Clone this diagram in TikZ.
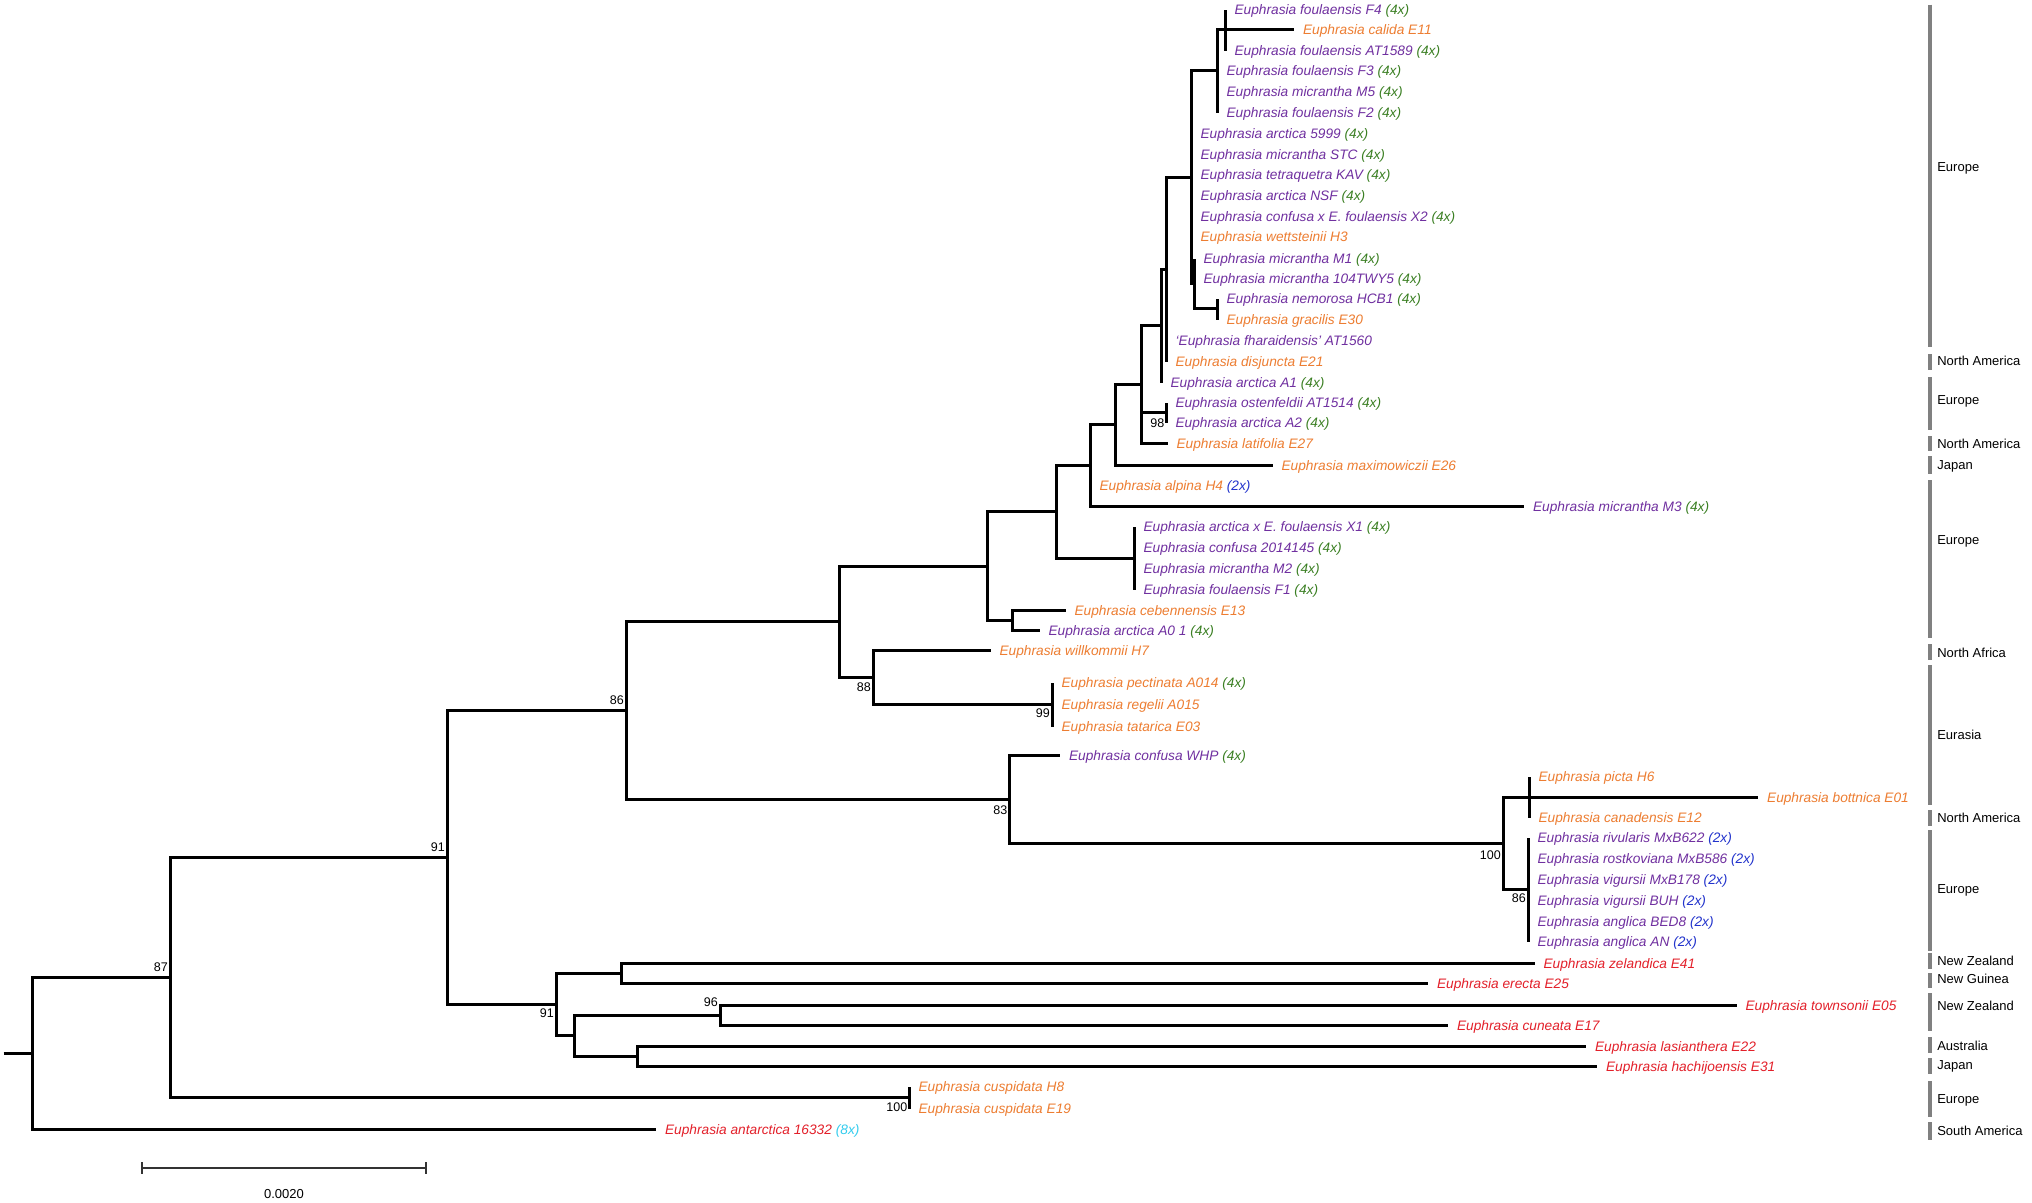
\documentclass[tikz,border=0pt]{standalone}
\usepackage{fontspec}
\setmainfont{Liberation Sans}
\definecolor{cpur}{HTML}{7030A0}
\definecolor{cora}{HTML}{ED7D31}
\definecolor{cgrn}{HTML}{3A7F22}
\definecolor{cblu}{HTML}{2233CC}
\definecolor{cred}{HTML}{E3202A}
\definecolor{ccya}{HTML}{33CCEE}
\definecolor{cbar}{HTML}{808080}
\def\xPu{\color{cpur}}
\def\xOr{\color{cora}}
\def\xGn{\color{cgrn}}
\def\xBl{\color{cblu}}
\def\xRd{\color{cred}}
\def\xCy{\color{ccya}}
\begin{document}
\begin{tikzpicture}[x=0.025cm,y=-0.025cm,
  br/.style={line width=0.07cm, line join=miter},
  leaf/.style={anchor=base west, inner sep=0pt, xshift=0.22cm, yshift=-0.12cm, font=\fontsize{9.75}{11}\selectfont\itshape},
  boot/.style={anchor=east, inner sep=0pt, font=\fontsize{8.9}{10}\selectfont},
  regbar/.style={draw=cbar, line width=0.1cm},
  reglab/.style={anchor=base west, inner sep=0pt, yshift=-0.116cm, font=\fontsize{9.25}{11}\selectfont},
  sbar/.style={draw=black!80, line width=0.05cm}]
\fill[white] (0,0) rectangle (2032,1203);
\useasboundingbox (0,0) rectangle (2032,1203);
% internal nodes
\coordinate (rs) at (3.5,1053.5);
\coordinate (root) at (32.5,1053.5);
\coordinate (n87) at (170.5,977.5);
\coordinate (ncusp) at (909.5,1097.5);
\coordinate (n91a) at (447.5,857.5);
\coordinate (n91b) at (556.5,1004.5);
\coordinate (nzel) at (621.5,973.5);
\coordinate (nN) at (574.5,1035.5);
\coordinate (n96) at (720.5,1015.5);
\coordinate (nlas) at (637.5,1056.5);
\coordinate (n86) at (626.5,710.5);
\coordinate (nL) at (839.5,621.5);
\coordinate (n88) at (873.5,677.5);
\coordinate (n99) at (1052.5,704.5);
\coordinate (nK) at (987.5,566.5);
\coordinate (nceb) at (1012.5,620.5);
\coordinate (nI) at (1056.5,511.5);
\coordinate (nJ) at (1134.5,558.5);
\coordinate (nH) at (1090.5,465.5);
\coordinate (nG) at (1115.5,424.5);
\coordinate (nF) at (1141.5,384.5);
\coordinate (n98) at (1166.5,412.5);
\coordinate (nE) at (1161.5,325.5);
\coordinate (nD) at (1166.5,269.5);
\coordinate (nB) at (1191.5,177.5);
\coordinate (nC) at (1194.5,283.5);
\coordinate (nHCB) at (1217.5,308.5);
\coordinate (nA) at (1217.5,70.5);
\coordinate (nFA) at (1225.5,29.5);
\coordinate (n83) at (1009.5,799.5);
\coordinate (n100) at (1503.5,843.5);
\coordinate (npicta) at (1529.5,797.5);
\coordinate (n86b) at (1528.5,889.5);
% tips
\coordinate (t0) at (1225.5,9.5);
\coordinate (t1) at (1294,29.5);
\coordinate (t2) at (1225.5,50.5);
\coordinate (t3) at (1217.5,70.5);
\coordinate (t4) at (1217.5,91.5);
\coordinate (t5) at (1217.5,112.5);
\coordinate (t6) at (1191.5,133.5);
\coordinate (t7) at (1191.5,154.5);
\coordinate (t8) at (1191.5,174.5);
\coordinate (t9) at (1191.5,195.5);
\coordinate (t10) at (1191.5,216.5);
\coordinate (t11) at (1191.5,236.5);
\coordinate (t12) at (1194.5,258.5);
\coordinate (t13) at (1194.5,278.5);
\coordinate (t14) at (1217.5,298.5);
\coordinate (t15) at (1217.5,319.5);
\coordinate (t16) at (1166.5,340.5);
\coordinate (t17) at (1166.5,361.5);
\coordinate (t18) at (1161.5,382.5);
\coordinate (t19) at (1166.5,402.5);
\coordinate (t20) at (1166.5,422.5);
\coordinate (t21) at (1167.5,443.5);
\coordinate (t22) at (1272.5,465.5);
\coordinate (t23) at (1090.5,485.5);
\coordinate (t24) at (1524,506.5);
\coordinate (t25) at (1134.5,526.5);
\coordinate (t26) at (1134.5,547.5);
\coordinate (t27) at (1134.5,568.5);
\coordinate (t28) at (1134.5,589.5);
\coordinate (t29) at (1065.5,610.5);
\coordinate (t30) at (1039.5,630.5);
\coordinate (t31) at (990.5,650.5);
\coordinate (t32) at (1052.5,682.5);
\coordinate (t33) at (1052.5,704.5);
\coordinate (t34) at (1052.5,726.5);
\coordinate (t35) at (1060,755.5);
\coordinate (t36) at (1529.5,776.5);
\coordinate (t37) at (1758,797.5);
\coordinate (t38) at (1529.5,817.5);
\coordinate (t39) at (1528.5,837.5);
\coordinate (t40) at (1528.5,858.5);
\coordinate (t41) at (1528.5,879.5);
\coordinate (t42) at (1528.5,900.5);
\coordinate (t43) at (1528.5,921.5);
\coordinate (t44) at (1528.5,941.5);
\coordinate (t45) at (1534.5,963.5);
\coordinate (t46) at (1428,983.5);
\coordinate (t47) at (1736.5,1005.5);
\coordinate (t48) at (1448,1025.5);
\coordinate (t49) at (1586,1046.5);
\coordinate (t50) at (1597,1066.5);
\coordinate (t51) at (909.5,1086.5);
\coordinate (t52) at (909.5,1108.5);
\coordinate (t53) at (656,1129.5);
% branches
\draw[br] (rs) -- (root);
\foreach \p/\c in {root/n87, root/t53, n87/n91a, n87/ncusp, ncusp/t51, ncusp/t52,
  n91a/n86, n91a/n91b, n91b/nzel, n91b/nN, nzel/t45, nzel/t46, nN/n96, nN/nlas,
  n96/t47, n96/t48, nlas/t49, nlas/t50, n86/nL, n86/n83, nL/nK, nL/n88,
  n88/t31, n88/n99, n99/t32, n99/t33, n99/t34, nK/nI, nK/nceb, nceb/t29, nceb/t30,
  nI/nH, nI/nJ, nJ/t25, nJ/t26, nJ/t27, nJ/t28, nH/nG, nH/t23, nH/t24,
  nG/nF, nG/t22, nF/nE, nF/n98, nF/t21, n98/t19, n98/t20, nE/nD, nE/t18,
  nD/nB, nD/t16, nD/t17, nB/nA, nB/t6, nB/t7, nB/t8, nB/t9, nB/t10, nB/t11, nB/nC,
  nC/t12, nC/t13, nC/nHCB, nHCB/t14, nHCB/t15, nA/nFA, nA/t1, nA/t3, nA/t4, nA/t5,
  nFA/t0, nFA/t2, n83/t35, n83/n100, n100/npicta, n100/n86b,
  npicta/t36, npicta/t37, npicta/t38,
  n86b/t39, n86b/t40, n86b/t41, n86b/t42, n86b/t43, n86b/t44}
  \draw[br] (\p) |- (\c);
% leaf labels
\node[leaf] (l0) at (t0) {\xPu Euphrasia foulaensis F4 \xGn(4x)};
\node[leaf] (l1) at (t1) {\xOr Euphrasia calida E11};
\node[leaf] (l2) at (t2) {\xPu Euphrasia foulaensis AT1589 \xGn(4x)};
\node[leaf] (l3) at (t3) {\xPu Euphrasia foulaensis F3 \xGn(4x)};
\node[leaf] (l4) at (t4) {\xPu Euphrasia micrantha M5 \xGn(4x)};
\node[leaf] (l5) at (t5) {\xPu Euphrasia foulaensis F2 \xGn(4x)};
\node[leaf] (l6) at (t6) {\xPu Euphrasia arctica 5999 \xGn(4x)};
\node[leaf] (l7) at (t7) {\xPu Euphrasia micrantha STC \xGn(4x)};
\node[leaf] (l8) at (t8) {\xPu Euphrasia tetraquetra KAV \xGn(4x)};
\node[leaf] (l9) at (t9) {\xPu Euphrasia arctica NSF \xGn(4x)};
\node[leaf] (l10) at (t10) {\xPu Euphrasia confusa x E. foulaensis X2 \xGn(4x)};
\node[leaf] (l11) at (t11) {\xOr Euphrasia wettsteinii H3};
\node[leaf] (l12) at (t12) {\xPu Euphrasia micrantha M1 \xGn(4x)};
\node[leaf] (l13) at (t13) {\xPu Euphrasia micrantha 104TWY5 \xGn(4x)};
\node[leaf] (l14) at (t14) {\xPu Euphrasia nemorosa HCB1 \xGn(4x)};
\node[leaf] (l15) at (t15) {\xOr Euphrasia gracilis E30};
\node[leaf] (l16) at (t16) {\xPu ‘Euphrasia fharaidensis’ AT1560};
\node[leaf] (l17) at (t17) {\xOr Euphrasia disjuncta E21};
\node[leaf] (l18) at (t18) {\xPu Euphrasia arctica A1 \xGn(4x)};
\node[leaf] (l19) at (t19) {\xPu Euphrasia ostenfeldii AT1514 \xGn(4x)};
\node[leaf] (l20) at (t20) {\xPu Euphrasia arctica A2 \xGn(4x)};
\node[leaf] (l21) at (t21) {\xOr Euphrasia latifolia E27};
\node[leaf] (l22) at (t22) {\xOr Euphrasia maximowiczii E26};
\node[leaf] (l23) at (t23) {\xOr Euphrasia alpina H4 \xBl(2x)};
\node[leaf] (l24) at (t24) {\xPu Euphrasia micrantha M3 \xGn(4x)};
\node[leaf] (l25) at (t25) {\xPu Euphrasia arctica x E. foulaensis X1 \xGn(4x)};
\node[leaf] (l26) at (t26) {\xPu Euphrasia confusa 2014145 \xGn(4x)};
\node[leaf] (l27) at (t27) {\xPu Euphrasia micrantha M2 \xGn(4x)};
\node[leaf] (l28) at (t28) {\xPu Euphrasia foulaensis F1 \xGn(4x)};
\node[leaf] (l29) at (t29) {\xOr Euphrasia cebennensis E13};
\node[leaf] (l30) at (t30) {\xPu Euphrasia arctica A0 1 \xGn(4x)};
\node[leaf] (l31) at (t31) {\xOr Euphrasia willkommii H7};
\node[leaf] (l32) at (t32) {\xOr Euphrasia pectinata A014 \xGn(4x)};
\node[leaf] (l33) at (t33) {\xOr Euphrasia regelii A015};
\node[leaf] (l34) at (t34) {\xOr Euphrasia tatarica E03};
\node[leaf] (l35) at (t35) {\xPu Euphrasia confusa WHP \xGn(4x)};
\node[leaf] (l36) at (t36) {\xOr Euphrasia picta H6};
\node[leaf] (l37) at (t37) {\xOr Euphrasia bottnica E01};
\node[leaf] (l38) at (t38) {\xOr Euphrasia canadensis E12};
\node[leaf] (l39) at (t39) {\xPu Euphrasia rivularis MxB622 \xBl(2x)};
\node[leaf] (l40) at (t40) {\xPu Euphrasia rostkoviana MxB586 \xBl(2x)};
\node[leaf] (l41) at (t41) {\xPu Euphrasia vigursii MxB178 \xBl(2x)};
\node[leaf] (l42) at (t42) {\xPu Euphrasia vigursii BUH \xBl(2x)};
\node[leaf] (l43) at (t43) {\xPu Euphrasia anglica BED8 \xBl(2x)};
\node[leaf] (l44) at (t44) {\xPu Euphrasia anglica AN \xBl(2x)};
\node[leaf] (l45) at (t45) {\xRd Euphrasia zelandica E41};
\node[leaf] (l46) at (t46) {\xRd Euphrasia erecta E25};
\node[leaf] (l47) at (t47) {\xRd Euphrasia townsonii E05};
\node[leaf] (l48) at (t48) {\xRd Euphrasia cuneata E17};
\node[leaf] (l49) at (t49) {\xRd Euphrasia lasianthera E22};
\node[leaf] (l50) at (t50) {\xRd Euphrasia hachijoensis E31};
\node[leaf] (l51) at (t51) {\xOr Euphrasia cuspidata H8};
\node[leaf] (l52) at (t52) {\xOr Euphrasia cuspidata E19};
\node[leaf] (l53) at (t53) {\xRd Euphrasia antarctica 16332 \xCy(8x)};
% bootstrap values
\node[boot] (b1) at (624,700) {86};
\node[boot] (b2) at (445,847) {91};
\node[boot] (b3) at (168,967) {87};
\node[boot] (b4) at (554,1013) {91};
\node[boot] (b5) at (718,1002) {96};
\node[boot] (b6) at (871,687) {88};
\node[boot] (b7) at (1050,713) {99};
\node[boot] (b8) at (1007.5,810) {83};
\node[boot] (b9) at (1501,855) {100};
\node[boot] (b10) at (1526,898) {86};
\node[boot] (b11) at (1164.5,423) {98};
\node[boot] (b12) at (907.5,1107) {100};
% region bars
\foreach \ya/\yb/\yl/\txt [count=\k] in {4.5/347/167/Europe, 354/370/361/North America,
  377/430/400/Europe, 436/451/444/North America, 456/474/465/Japan,
  480/638/540/Europe, 644/660/652.5/North Africa, 665/805/735/Eurasia,
  810/826/818/North America, 830/951/889/Europe, 953/969/960.5/New Zealand,
  973/988/978.5/New Guinea, 993/1031/1006/New Zealand, 1037/1053/1046/Australia,
  1058/1074/1065/Japan, 1081/1117/1099/Europe, 1122/1140/1131/South America}
{
  \coordinate (ra\k) at (1930,\ya);
  \coordinate (rb\k) at (1930,\yb);
  \draw[regbar] (ra\k) -- (rb\k);
  \node[reglab] (rl\k) at (1937,\yl) {\txt};
}
% scale bar
\coordinate (sa) at (142,1168);
\coordinate (sb) at (426,1168);
\draw[sbar] (sa) -- (sb);
\draw[sbar] ([yshift=0.14cm]sa) -- ([yshift=-0.14cm]sa);
\draw[sbar] ([yshift=0.14cm]sb) -- ([yshift=-0.14cm]sb);
\node[font=\fontsize{9.25}{11}\selectfont, inner sep=0pt] (slab) at (284,1194) {0.0020};
\end{tikzpicture}
\end{document}
